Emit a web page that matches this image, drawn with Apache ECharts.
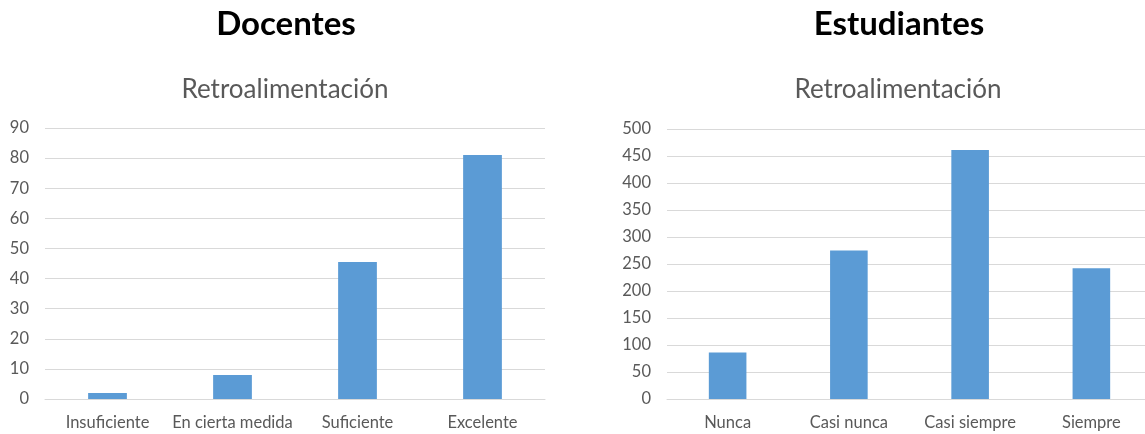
<!DOCTYPE html>
<html><head><meta charset="utf-8">
<script src="https://cdn.jsdelivr.net/npm/echarts@6/dist/echarts.min.js"></script>
<style>html,body{margin:0;padding:0;background:#fff;overflow:hidden;width:1145px;height:434px}#c{width:1152px;height:434px}</style>
</head><body><div id="c"></div>
<script>
const docCategories = ['Insuficiente', 'En cierta medida', 'Suficiente', 'Excelente'];
const docValues = [2, 8, 45.5, 81];
const estCategories = ['Nunca', 'Casi nunca', 'Casi siempre', 'Siempre'];
const estValues = [86, 275, 461, 242];
const mainTitles = ['Docentes', 'Estudiantes'];
const subTitle = 'Retroalimentación';

const FONT = "Lato, 'Open Sans', sans-serif";
const chart = echarts.init(document.getElementById('c'));
const axisLabel = {color: '#595959', fontSize: 16.5, fontFamily: FONT};
function xAx(i, cats) {
  return {type: 'category', gridIndex: i, data: cats,
    axisLine: {lineStyle: {color: '#d9d9d9'}}, axisTick: {show: false},
    axisLabel: Object.assign({margin: 15, interval: 0}, axisLabel)};
}
function yAx(i, max, interval) {
  return {type: 'value', gridIndex: i, min: 0, max: max, interval: interval,
    axisLine: {show: false}, axisTick: {show: false},
    splitLine: {lineStyle: {color: '#d9d9d9', width: 1}},
    axisLabel: Object.assign({margin: 16}, axisLabel)};
}
chart.setOption({
  animation: false,
  textStyle: {fontFamily: FONT},
  title: [
    {text: mainTitles[0], left: 281, top: 3, textAlign: 'center', textStyle: {fontSize: 33, fontWeight: 'bold', color: '#000', fontFamily: FONT}},
    {text: mainTitles[1], left: 894, top: 3, textAlign: 'center', textStyle: {fontSize: 33, fontWeight: 'bold', color: '#000', fontFamily: FONT}},
    {text: subTitle, left: 280, top: 72, textAlign: 'center', textStyle: {fontSize: 26, fontWeight: 'normal', color: '#595959', fontFamily: FONT}},
    {text: subTitle, left: 893, top: 72, textAlign: 'center', textStyle: {fontSize: 26, fontWeight: 'normal', color: '#595959', fontFamily: FONT}}
  ],
  grid: [
    {left: 45, width: 500, top: 128, bottom: 35},
    {left: 667, width: 485, top: 129, bottom: 35}
  ],
  xAxis: [xAx(0, docCategories), xAx(1, estCategories)],
  yAxis: [yAx(0, 90, 10), yAx(1, 500, 50)],
  series: [
    {type: 'bar', xAxisIndex: 0, yAxisIndex: 0, data: docValues, barWidth: '31%', itemStyle: {color: '#5b9bd5'}},
    {type: 'bar', xAxisIndex: 1, yAxisIndex: 1, data: estValues, barWidth: '31%', itemStyle: {color: '#5b9bd5'}}
  ]
});
</script></body></html>
